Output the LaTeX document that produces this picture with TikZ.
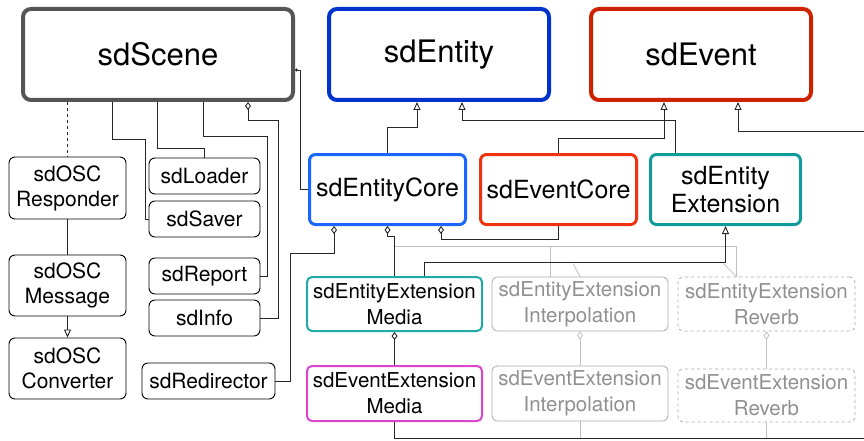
\documentclass[tikz,border=0pt]{standalone}
\usepackage{fontspec}
\setmainfont{TeX Gyre Heros}
\usetikzlibrary{arrows.meta}
\definecolor{scenegray}{HTML}{555555}
\definecolor{entityblue}{HTML}{0033CC}
\definecolor{eventred}{HTML}{CC2200}
\definecolor{coreblue}{HTML}{1A66FF}
\definecolor{corered}{HTML}{EE3311}
\definecolor{extteal}{HTML}{119C9C}
\definecolor{mediateal}{HTML}{22AAAA}
\definecolor{mediamagenta}{HTML}{DD44CC}
\definecolor{fadegray}{HTML}{AAAAAA}
\definecolor{fadetext}{HTML}{909090}
\tikzset{
  class box/.style={draw,rounded corners=6pt,align=center,inner sep=0pt,text=black},
  top class/.style={class box,line width=4pt,rounded corners=8pt,minimum width=220pt,minimum height=91pt,font=\fontsize{31}{36}\selectfont},
  core class/.style={class box,line width=3pt,minimum width=156pt,minimum height=70pt,font=\fontsize{25}{28}\selectfont},
  small class/.style={class box,line width=0.9pt,minimum width=111pt,minimum height=36pt,font=\fontsize{21}{25}\selectfont},
  ext class/.style={class box,line width=2pt,rounded corners=5pt,minimum width=175pt,minimum height=54pt,font=\fontsize{20.5}{26}\selectfont},
  faded class/.style={ext class,line width=0.8pt,draw=fadegray,text=fadetext,minimum width=176pt},
  link/.style={black!85,line width=0.9pt},
  faded link/.style={fadegray!75,line width=0.8pt},
  inherit/.style={link,-{Triangle[open,length=8pt,width=7pt]}},
  aggregate/.style={link,{Diamond[open,length=8pt,width=6pt]}-},
  faded aggregate/.style={faded link,{Diamond[open,length=8pt,width=6pt]}-},
}

\begin{document}
\begin{tikzpicture}[x=1pt,y=-1pt]
  \useasboundingbox (0,0) rectangle (864,441);
  % top classes
  \node[top class,draw=scenegray,minimum width=270pt] (scene) at (158,54.5) {sdScene};
  \node[top class,draw=entityblue] (entity) at (439,54.5) {sdEntity};
  \node[top class,draw=eventred] (event) at (701,54.5) {sdEvent};
  % osc and helpers
  \node[small class,minimum width=117pt,minimum height=62pt] (resp) at (67.5,188) {sdOSC\\Responder};
  \node[small class,minimum width=117pt,minimum height=61pt] (msg) at (67.5,285.5) {sdOSC\\Message};
  \node[small class,minimum width=117pt,minimum height=61pt] (conv) at (67.5,368.5) {sdOSC\\Converter};
  \node[small class] (loader) at (204.5,176) {sdLoader};
  \node[small class] (saver) at (204.5,219) {sdSaver};
  \node[small class] (report) at (204.5,276) {sdReport};
  \node[small class] (info) at (204.5,318) {sdInfo};
  \node[small class,minimum width=133pt] (redir) at (208.5,381) {sdRedirector};
  % cores
  \node[core class,draw=coreblue] (ecore) at (387.5,189.5) {sdEntityCore};
  \node[core class,draw=corered] (evcore) at (558.5,189.5) {sdEventCore};
  \node[core class,draw=extteal,minimum width=150pt] (entext) at (725.5,189.5) {sdEntity\\Extension};
  % extensions
  \node[ext class,draw=mediateal] (emedia) at (394.5,304) {sdEntityExtension\\Media};
  \node[faded class] (einterp) at (580,304) {sdEntityExtension\\Interpolation};
  \node[faded class,dashed,minimum width=177pt] (ereverb) at (766.5,304) {sdEntityExtension\\Reverb};
  \node[ext class,draw=mediamagenta,minimum height=55pt] (evmedia) at (394.5,393.5) {sdEventExtension\\Media};
  \node[faded class,minimum height=55pt] (evinterp) at (580,393.5) {sdEventExtension\\Interpolation};
  \node[faded class,dashed,minimum width=177pt,minimum height=53pt] (evreverb) at (766.5,395.5) {sdEventExtension\\Reverb};
  \coordinate (offright) at (864,131);
  \coordinate (botright) at (864,438);

  % faded links
  \draw[faded link] (emedia.north |- 0,246) -| ([xshift=-30pt]ereverb.north);
  \draw[faded link] ([xshift=-30pt]einterp.north |- 0,246) -- ([xshift=-30pt]einterp.north);
  \draw[faded link] (einterp.north) -- ++(-7,-13);
  \draw[faded link] ([xshift=-30pt]ereverb.north) -- ++(-13,-13);
  \draw[faded aggregate] (einterp.south) -- (evinterp.north);
  \draw[faded aggregate] (ereverb.south) -- (evreverb.north);
  \draw[faded link] (evinterp.south) -- (evinterp.south |- botright);
  \draw[faded link] (evreverb.south) -- (evreverb.south |- botright);

  % scene links
  \draw[link,dashed] (resp.north |- scene.south) -- (resp.north);
  \draw[link] (resp.south) -- (msg.north);
  \draw[inherit] (msg.south) -- (conv.north);
  \draw[link] ([xshift=-46pt]scene.south) -- ++(0,37) -| ([xshift=-3pt]saver.west) -- (saver.west);
  \draw[link] ([xshift=-1pt]scene.south) -- ++(0,46) -| (loader.north);
  \draw[link] ([xshift=45pt]scene.south) -- ++(0,34) -| ([xshift=7pt]report.east) -- (report.east);
  \draw[aggregate] ([xshift=90pt]scene.south) -- ++(0,18) -| ([xshift=18pt]info.east) -- (info.east);
  \draw[link,{Circle[open,length=3pt]}-] ([yshift=-15.5pt]scene.east) -| ([xshift=-8pt]ecore.west) -- (ecore.west);

  % inheritance to top classes
  \draw[inherit] (ecore.north) -- ++(0,-26) -| ([xshift=-22pt]entity.south);
  \draw[inherit] ([xshift=-50pt]entext.north) -- ++(0,-33) -| ([xshift=23pt]entity.south);
  \draw[inherit] (evcore.north) -- ++(0,-15) -| ([xshift=-37pt]event.south);
  \draw[inherit] (offright) -| ([xshift=37pt]event.south);

  % core aggregations
  \draw[aggregate] ([xshift=-53.5pt]ecore.south) -- ++(0,27) -| ([xshift=15pt]redir.east) -- (redir.east);
  \draw[aggregate] (ecore.south) -- ++(0,10) -| (emedia.north);
  \draw[aggregate] ([xshift=53.5pt]ecore.south) -- ++(0,13) -| (evcore.south);
  \draw[inherit] ([xshift=30pt]emedia.north) -- ++(0,-14) -| (entext.south);
  \draw[aggregate] (emedia.south) -- (evmedia.north);
  \draw[link] (evmedia.south) |- (botright);
\end{tikzpicture}
\end{document}
